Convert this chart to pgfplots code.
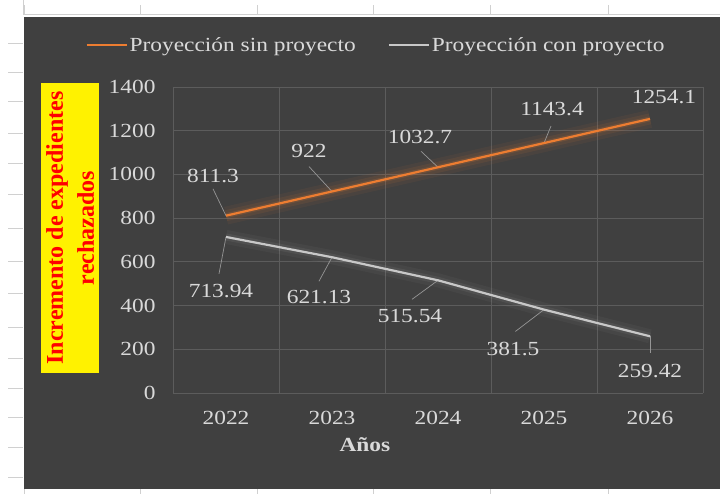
\documentclass[border=0pt]{standalone}
\usepackage{pgfplots}
\pgfplotsset{compat=1.18}
\usepackage{pgfplotstable}
\usepackage{fontspec}
\setmainfont{Liberation Serif}[FakeStretch=1.17]
\newfontfamily\ylfont{Liberation Serif}
\definecolor{bg}{RGB}{64,64,64}
\definecolor{gridc}{RGB}{92,92,92}
\definecolor{txt}{RGB}{217,217,217}
\definecolor{orng}{RGB}{237,125,49}
\definecolor{lgray}{RGB}{200,200,200}
\definecolor{lead}{RGB}{150,150,150}
\definecolor{sheet}{RGB}{208,208,208}
\def\fs{\fontsize{20}{24}\selectfont}
\pgfplotstableread{
x y lbl dx dy u v
0 811.3 811.3 -13 40 -0.123 123
1 922 922 -23 40 -0.217 114
2 1032.7 1032.7 -18 30 -0.16 73
3 1143.4 1143.4 8 34 0.066 78
4 1254.1 1254.1 14 22 0 0
}\sinproy
\pgfplotstableread{
x y lbl dx dy u v
0 713.94 713.94 -5 -54 -0.066 -169
1 621.13 621.13 -13 -40 -0.123 -110
2 515.54 515.54 -28 -36 -0.245 -87
3 381.5 381.5 -31 -39 -0.27 -100
4 259.42 259.42 0 -35 0 -78
}\conproy
\begin{document}
\begin{tikzpicture}[x=1pt,y=1pt]
\useasboundingbox (0,0) rectangle (720,494);
\fill[white] (0,0) rectangle (720,494);
% spreadsheet frame
\draw[sheet, line width=1pt] (23,494) -- (23,479) -- (720,479);
\foreach \xx in {24,140,257,373,490,608} {\draw[sheet, line width=0.8pt] (\xx,479) -- (\xx,489);}
\foreach \xx in {24,140,257,373,490,608} {\draw[sheet, line width=0.8pt] (\xx,0) -- (\xx,5);}
\foreach \yy in {43,72,101,133,163,194,228,261,293,327,358,388,417,447,477} {\draw[sheet, line width=0.8pt] (8,494-\yy) -- (23,494-\yy);}
\fill[bg] (24,5) rectangle (720,477);
\begin{axis}[
  at={(173pt,101pt)}, anchor=south west,
  scale only axis, width=530pt, height=306pt,
  xmin=-0.5, xmax=4.5, ymin=0, ymax=1400,
  xtick={0,1,2,3,4}, xticklabels={2022,2023,2024,2025,2026},
  minor xtick={-0.5,0.5,1.5,2.5,3.5,4.5},
  ytick={0,200,...,1400},
  ymajorgrids=true, xminorgrids=true, xmajorgrids=false,
  major grid style={gridc, line width=0.8pt},
  minor grid style={gridc, line width=0.8pt},
  axis line style={draw=none},
  major tick length=0pt, minor tick length=0pt,
  tick label style={font=\fs, text=txt},
  /pgf/number format/assume math mode=true,
  /pgf/number format/1000 sep={},
  yticklabel style={xshift=-14pt},
  xticklabel style={yshift=-15pt},
  xlabel={Años},
  xlabel style={at={(axis description cs:0.362,-0.17)}, anchor=center, font=\fs\bfseries, text=txt},
  ylabel={Incremento de expedientes\\rechazados},
  ylabel style={at={(axis description cs:-0.194,0.539)}, anchor=center, fill=yellow, text=red,
     font=\ylfont\fontsize{24}{31}\selectfont\bfseries, align=center, minimum width=290pt, minimum height=58pt, inner sep=0pt},
  legend columns=2,
  legend style={draw=none, fill=none, text=txt, font=\fs,
     at={(axis description cs:0.383,1.137)}, anchor=center,
     /tikz/every even column/.append style={column sep=30pt},
     nodes={inner sep=2pt}},
  legend image code/.code={\draw[#1, line width=2.2pt] (0pt,0pt) -- (40pt,0pt);},
  clip=false,
]
% glows
\addplot[orng, line width=18pt, opacity=0.06, forget plot] table[x=x,y=y]{\sinproy};
\addplot[orng, line width=11pt, opacity=0.09, forget plot] table[x=x,y=y]{\sinproy};
\addplot[orng, line width=5pt, opacity=0.16, forget plot] table[x=x,y=y]{\sinproy};
\addplot[white, line width=14pt, opacity=0.035, forget plot] table[x=x,y=y]{\conproy};
\addplot[white, line width=7pt, opacity=0.06, forget plot] table[x=x,y=y]{\conproy};
% leader lines
\addplot[lead, line width=0.7pt, forget plot, quiver={u=\thisrow{u}, v=\thisrow{v}}] table[x=x,y=y]{\sinproy};
\addplot[lead, line width=0.7pt, forget plot, quiver={u=\thisrow{u}, v=\thisrow{v}}] table[x=x,y=y]{\conproy};
% main lines
\addplot[orng, line width=2.2pt,
  point meta=explicit symbolic,
  visualization depends on={\thisrow{dx}\as\dx},
  visualization depends on={\thisrow{dy}\as\dy},
  nodes near coords,
  nodes near coords style={anchor=center, xshift=\dx, yshift=\dy, font=\fs, text=txt}]
  table[x=x,y=y,meta=lbl]{\sinproy};
\addlegendentry{Proyección sin proyecto}
\addplot[lgray, line width=2.2pt,
  point meta=explicit symbolic,
  visualization depends on={\thisrow{dx}\as\dx},
  visualization depends on={\thisrow{dy}\as\dy},
  nodes near coords,
  nodes near coords style={anchor=center, xshift=\dx, yshift=\dy, font=\fs, text=txt}]
  table[x=x,y=y,meta=lbl]{\conproy};
\addlegendentry{Proyección con proyecto}
\end{axis}
\end{tikzpicture}
\end{document}
